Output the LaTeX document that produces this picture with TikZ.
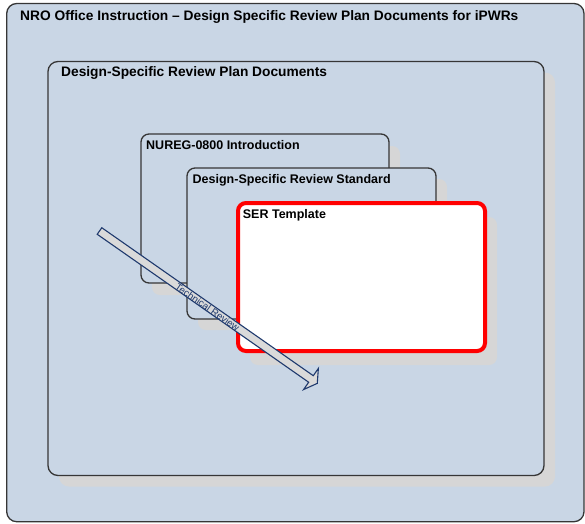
\documentclass[tikz,border=0pt]{standalone}
\usepackage{fontspec}
\setmainfont{Liberation Sans}
\usetikzlibrary{shadows}

\definecolor{paneblue}{HTML}{C9D6E5}
\definecolor{edgegray}{HTML}{363636}
\definecolor{shadowgray}{HTML}{D6D6D6}
\definecolor{navy}{HTML}{1F3A6E}
\definecolor{arrowfill}{HTML}{DADADA}

\tikzset{
  panel/.style={draw=edgegray, line width=1.3pt, fill=paneblue,
    rounded corners=#1, inner sep=0pt, outer sep=0pt, anchor=north west},
  panel/.default=9pt,
  shade/.style 2 args={general shadow={fill=shadowgray,
    shadow xshift=#1, shadow yshift=-#2}},
  bigtitle/.style={anchor=base west, inner sep=0pt,
    font=\fontsize{13.75}{16}\selectfont\bfseries},
  boxtitle/.style={anchor=base west, inner sep=0pt,
    font=\fontsize{12.5}{15}\selectfont\bfseries},
  flowarrow/.style={draw=navy, line width=1.1pt, fill=arrowfill,
    line join=miter},
  flowlabel/.style={text=navy, inner sep=0pt,
    font=\fontsize{9.8}{11}\selectfont},
}

\begin{document}
\begin{tikzpicture}[x=1pt, y=-1pt]
  \useasboundingbox (0,0) rectangle (585,523);

  % outer container
  \node[panel=10pt, minimum width=577.3pt, minimum height=518.2pt]
    (office) at (6.7,3.5) {};
  \node[bigtitle] (officetitle) at (20,20.5)
    {NRO Office Instruction -- Design Specific Review Plan Documents for iPWRs};

  % review plan documents container
  \node[panel=10pt, shade={11pt}{11pt}, minimum width=496pt, minimum height=414pt]
    (plan) at (48,61.5) {};
  \node[bigtitle] (plantitle) at (61,76.5) {Design-Specific Review Plan Documents};

  % stacked documents
  \node[panel=8pt, shade={11pt}{12pt}, minimum width=248pt, minimum height=149pt]
    (nureg) at (141,134) {};
  \node[boxtitle] (nuregtitle) at (146,149.3) {NUREG-0800 Introduction};

  \node[panel=8pt, shade={11pt}{11pt}, minimum width=249pt, minimum height=151pt]
    (dsrs) at (187,168) {};
  \node[boxtitle] (dsrstitle) at (192.5,183.3) {Design-Specific Review Standard};

  \node[panel=8pt, draw=red, line width=4pt, fill=white, shade={12pt}{14pt},
    minimum width=247pt, minimum height=148pt]
    (ser) at (238,203) {};
  \node[boxtitle] (sertitle) at (242.7,218.3) {SER Template};

  % technical review block arrow
  \begin{scope}[shift={(99.5,231)}, rotate=-34.98]
    \coordinate (tail) at (0,0);
    \coordinate (tip) at (265.8,0);
    \draw[flowarrow] (0,-4) -- (258.1,-4) -- (258.1,-12.9) -- (tip)
      -- (258.1,12.9) -- (258.1,4) -- (0,4) -- cycle;
    \node[flowlabel, rotate=-34.98] (reviewlabel) at (132,0.5) {Technical Review};
  \end{scope}
\end{tikzpicture}
\end{document}
